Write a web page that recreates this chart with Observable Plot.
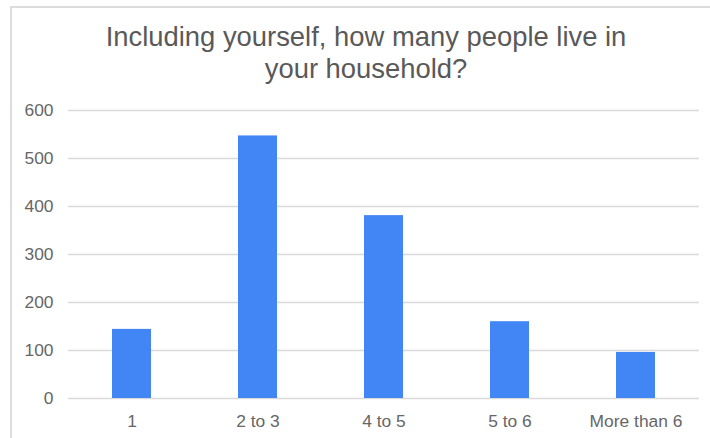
<!DOCTYPE html>
<html>
<head>
<meta charset="utf-8">
<script src="https://cdn.jsdelivr.net/npm/d3@7"></script>
<script src="https://cdn.jsdelivr.net/npm/@observablehq/plot@0.6"></script>
<style>
  html, body { margin: 0; padding: 0; background: #fff; }
  #frame { position: relative; width: 710px; height: 438px; overflow: hidden; background: #fff; }
  #border { position: absolute; left: 10px; top: 6px; right: -10px; bottom: -10px; border-top: 2px solid #dcdcdc; border-left: 2px solid #dcdcdc; }
  #title { position: absolute; left: 0; width: 732px; top: 21px; text-align: center;
           font-family: "Liberation Sans", Arial, sans-serif; font-size: 27.4px; line-height: 32px; color: #595959; }
  #chart { position: absolute; left: 0; top: 90px; }
</style>
</head>
<body>
<div id="frame">
  <div id="border"></div>
  <div id="title">Including yourself, how many people live in<br>your household?</div>
  <div id="chart"></div>
</div>
<script>
const categories = ["1", "2 to 3", "4 to 5", "5 to 6", "More than 6"];
const counts = [144, 547, 381, 160, 96];
const yTicks = [0, 100, 200, 300, 400, 500, 600];

const data = categories.map((c, i) => ({category: c, count: counts[i]}));

const chart = Plot.plot({
  width: 710,
  height: 348,
  marginLeft: 68,
  marginRight: 11,
  marginTop: 20,
  marginBottom: 40,
  style: {fontFamily: "'Liberation Sans', Arial, sans-serif", fontSize: "17.4px", color: "#666", background: "transparent"},
  x: {domain: categories, paddingInner: 0.69, paddingOuter: 0.345, label: null},
  y: {domain: [0, 600], ticks: yTicks, label: null},
  marks: [
    Plot.ruleY(yTicks, {stroke: "#d9d9d9", strokeWidth: 1.5}),
    Plot.barY(data, {x: "category", y: "count", fill: "#4285f4"}),
    Plot.axisY({ticks: yTicks, tickSize: 0, tickPadding: 15, label: null, fill: "#666"}),
    Plot.axisX({tickSize: 0, tickPadding: 16, label: null, fill: "#666"})
  ]
});
document.getElementById("chart").appendChild(chart);
</script>
</body>
</html>
